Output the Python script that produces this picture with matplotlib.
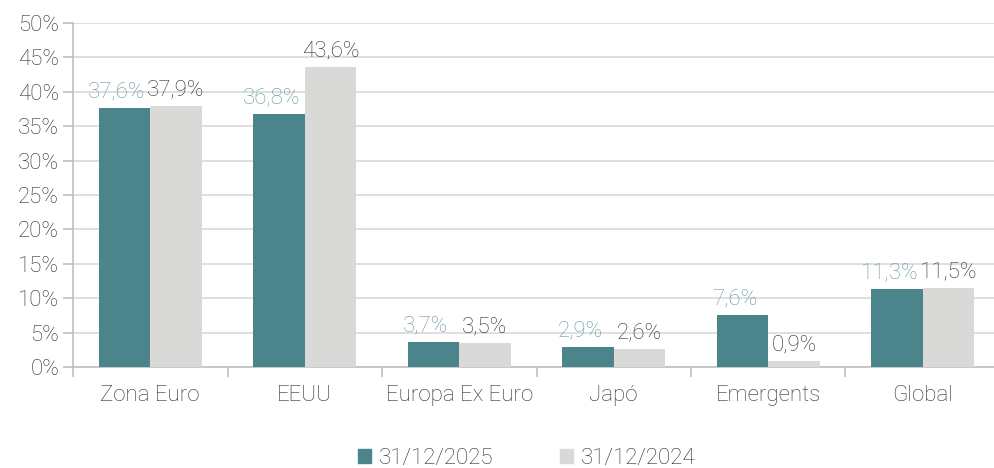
import numpy as np
import matplotlib
matplotlib.use("Agg")
import matplotlib.pyplot as plt
from matplotlib.patches import Patch

plt.rcParams['font.family'] = ['Roboto', 'DejaVu Sans']
plt.rcParams['font.weight'] = 'light'

categories = ['Zona Euro', 'EEUU', 'Europa Ex Euro', 'Japó', 'Emergents', 'Global']
serie_2025 = [37.6, 36.8, 3.7, 2.9, 7.6, 11.3]
serie_2024 = [37.9, 43.6, 3.5, 2.6, 0.9, 11.5]
series_names = ['31/12/2025', '31/12/2024']

teal = '#4b858b'
grey = '#d9d9d8'
teal_txt = '#6499a0'
dark_txt = '#2e2e2e'
axis_col = '#bfbfbf'
fs = 16

fig = plt.figure(figsize=(9.94, 4.68), dpi=100)
ax = fig.add_axes([73/994, 1-367/468, 927/994, 344/468])

x = np.arange(len(categories))
w = 1/3
b1 = ax.bar(x - w/2, serie_2025, w, color=teal, zorder=3)
b2 = ax.bar(x + w/2, serie_2024, w, color=grey, zorder=3)

def fmt(v):
    return ('%.1f%%' % v).replace('.', ',')

for rect, v in zip(b1, serie_2025):
    ax.annotate(fmt(v), (rect.get_x() + rect.get_width()/2 - 0.05, v),
                xytext=(0, 4), textcoords='offset points', ha='center', va='bottom',
                fontsize=fs, color=teal_txt)
for rect, v in zip(b2, serie_2024):
    ax.annotate(fmt(v), (rect.get_x() + rect.get_width()/2, v),
                xytext=(0, 4), textcoords='offset points', ha='center', va='bottom',
                fontsize=fs, color=dark_txt)

ax.set_xlim(-0.5, len(categories) - 0.5)
ax.set_ylim(0, 50)
ax.set_yticks(np.arange(0, 51, 5))
ax.set_yticklabels(['%d%%' % t for t in range(0, 51, 5)])
ax.yaxis.grid(True, color='#d9d9d9', linewidth=1.2, zorder=0)

ax.set_xticks(x)
ax.set_xticklabels(categories)
ax.set_xticks(np.arange(-0.5, len(categories)), minor=True)
ax.tick_params(axis='x', which='major', length=0, pad=13, labelsize=fs, labelcolor=dark_txt)
ax.tick_params(axis='x', which='minor', length=7, color=axis_col, width=1.2)
ax.tick_params(axis='y', length=7, color=axis_col, width=1.2, labelsize=fs,
               labelcolor=dark_txt, pad=3)

for s in ['top', 'right']:
    ax.spines[s].set_visible(False)
for s in ['left', 'bottom']:
    ax.spines[s].set_color(axis_col)
    ax.spines[s].set_linewidth(1.2)

handles = [Patch(color=teal), Patch(color=grey)]
fig.legend(handles, series_names, loc='lower center', bbox_to_anchor=(0.53, -0.045),
           ncol=2, frameon=False, fontsize=fs, handlelength=0.6, handleheight=0.6,
           handletextpad=0.35, columnspacing=3.0, labelcolor=dark_txt)

fig.savefig('out.png', dpi=100)
